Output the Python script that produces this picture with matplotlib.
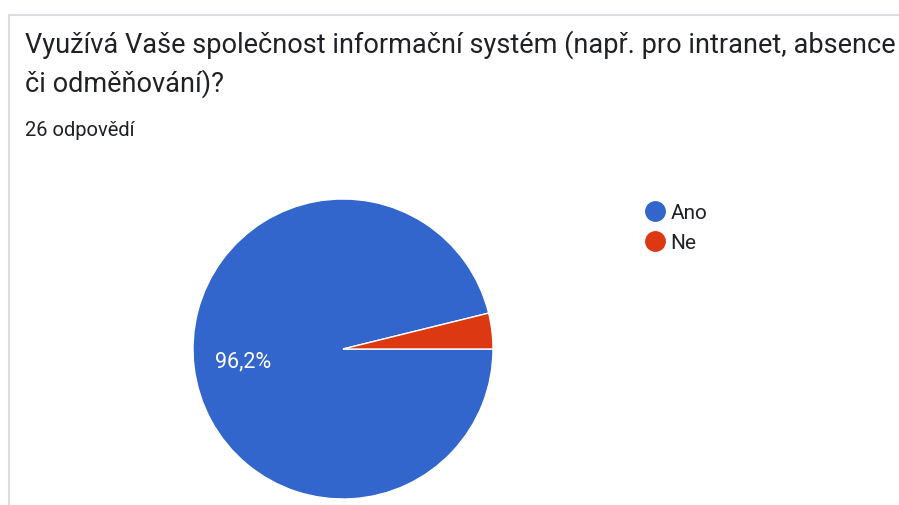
import matplotlib
matplotlib.use("Agg")
import matplotlib.pyplot as plt
from matplotlib.lines import Line2D

# data
labels = ["Ano", "Ne"]
counts = [25, 1]
colors = ["#3366cc", "#dc3912"]
title = "Využívá Vaše společnost informační systém (např. pro intranet, absence\nči odměňování)?"
subtitle = "26 odpovědí"

W, H = 899, 506
plt.rcParams['font.family'] = ['Roboto', 'DejaVu Sans']

fig = plt.figure(figsize=(W / 100, H / 100), dpi=100)
fig.patch.set_facecolor("white")

# card border (top and left)
fig.add_artist(Line2D([9 / W, 1], [1 - 16 / H, 1 - 16 / H], transform=fig.transFigure,
                      color="#dadce0", lw=1.5))
fig.add_artist(Line2D([9 / W, 9 / W], [0, 1 - 16 / H], transform=fig.transFigure,
                      color="#dadce0", lw=1.5))

fig.text(25 / W, 1 - 30 / H, title, fontsize=19.5, color="#202124", va="top", ha="left",
         linespacing=1.45)
fig.text(25 / W, 1 - 121 / H, subtitle, fontsize=14.5, color="#202124", va="top", ha="left")

# pie axes: center (343, 350), radius 150 px
cx, cy, r = 343, 350, 150
ax = fig.add_axes([(cx - r) / W, (H - cy - r) / H, 2 * r / W, 2 * r / H])


def pct(p):
    return ("%.1f%%" % p).replace(".", ",") if p > 10 else ""


wedges, texts, autotexts = ax.pie(counts, colors=colors, startangle=0, counterclock=False,
                                  autopct=pct, pctdistance=0.67,
                                  wedgeprops=dict(edgecolor="white", linewidth=1))
for t in autotexts:
    t.set_color("white")
    t.set_fontsize(15.5)
ax.set_xlim(-1, 1)
ax.set_ylim(-1, 1)
ax.set_aspect("equal")

handles = [Line2D([], [], marker="o", linestyle="", color=c, markersize=14) for c in colors]
fig.legend(handles, labels, loc="upper left", bbox_to_anchor=(634 / W, 1 - 194 / H),
           frameon=False, fontsize=15, handletextpad=0.25, labelspacing=0.5,
           handlelength=1.0, borderpad=0, labelcolor="#202124")

fig.savefig("out.png", dpi=100)
